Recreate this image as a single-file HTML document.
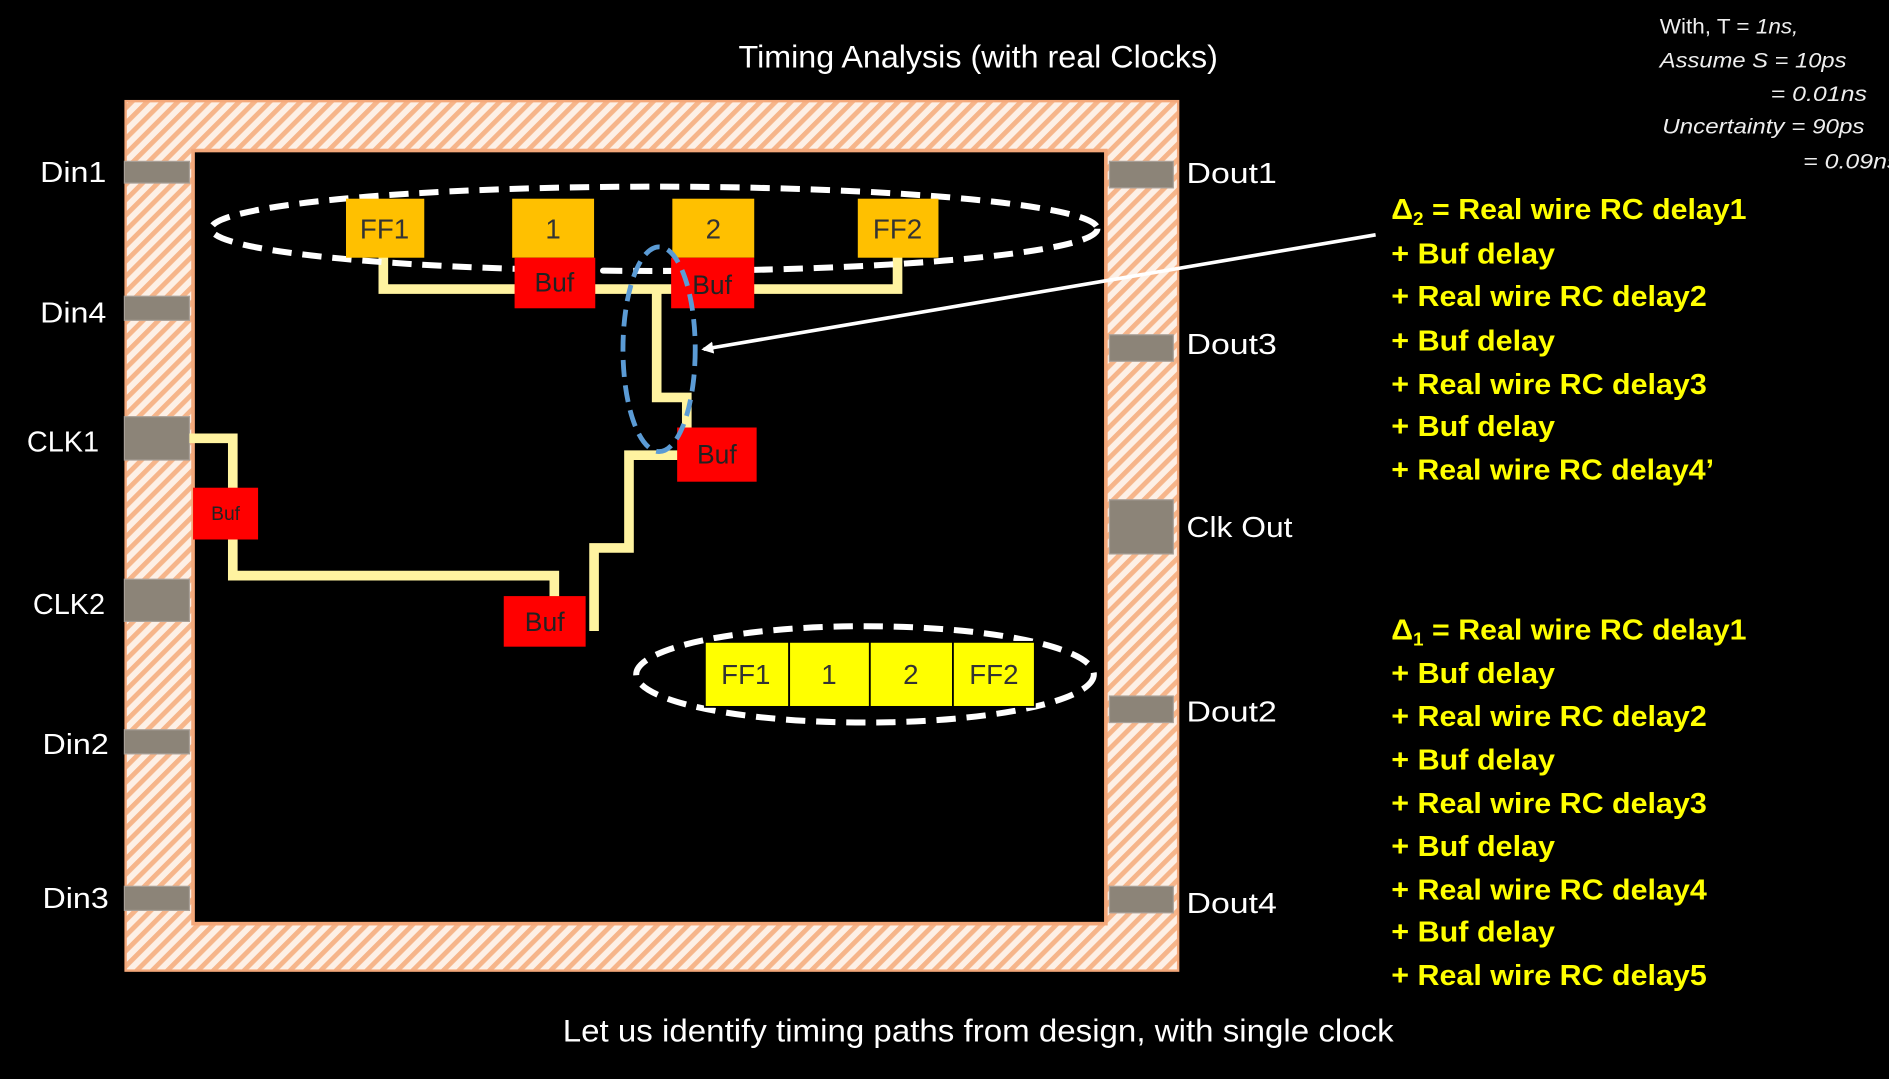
<!DOCTYPE html>
<html><head><meta charset="utf-8"><style>
html,body{margin:0;padding:0;background:#000;overflow:hidden}
svg{display:block}
text{font-family:"Liberation Sans",sans-serif}
</style></head><body>
<svg width="1889" height="1079" viewBox="0 0 1568 896" xmlns="http://www.w3.org/2000/svg">
<defs>
<pattern id="h" width="9" height="9" patternUnits="userSpaceOnUse" patternTransform="rotate(45)">
<rect width="9" height="9" fill="#fdf0e6"/><rect width="4" height="9" fill="#f6b58a"/>
</pattern>
<marker id="ar" markerWidth="10" markerHeight="10" refX="8" refY="5" orient="auto" markerUnits="userSpaceOnUse"><path d="M0,0 L10,5 L0,10 z" fill="#fff"/></marker>
</defs>
<rect width="1568" height="896" fill="#000"/>
<text x="812" y="56" fill="#fff" font-size="26" text-anchor="middle" textLength="398" lengthAdjust="spacingAndGlyphs">Timing Analysis (with real Clocks)</text>
<text x="812" y="865" fill="#fff" font-size="26" text-anchor="middle" textLength="690" lengthAdjust="spacingAndGlyphs">Let us identify timing paths from design, with single clock</text>
<g fill="#eee" font-size="18" font-style="italic">
<text x="1378" y="28" font-style="normal" textLength="115" lengthAdjust="spacingAndGlyphs">With, T = <tspan font-style="italic">1ns,</tspan></text>
<text x="1378" y="56" textLength="155" lengthAdjust="spacingAndGlyphs">Assume S = 10ps</text>
<text x="1470" y="84" textLength="80" lengthAdjust="spacingAndGlyphs">= 0.01ns</text>
<text x="1380" y="111" textLength="168" lengthAdjust="spacingAndGlyphs">Uncertainty = 90ps</text>
<text x="1497" y="140" textLength="80" lengthAdjust="spacingAndGlyphs">= 0.09ns</text>
</g>
<rect x="104" y="84" width="874" height="722" fill="url(#h)" stroke="#f4a87a" stroke-width="2"/>
<rect x="160" y="125" width="758" height="642" fill="#000" stroke="#f4a87a" stroke-width="3"/>
<g fill="#8c8478" stroke="#a8a098" stroke-width="1">
<rect x="103" y="134" width="54" height="18"/><rect x="103" y="246" width="54" height="20"/>
<rect x="103" y="346" width="54" height="36"/><rect x="103" y="481" width="54" height="35"/>
<rect x="103" y="606" width="54" height="20"/><rect x="103" y="736" width="54" height="20"/>
<rect x="921" y="134" width="53" height="22"/><rect x="921" y="278" width="53" height="22"/>
<rect x="921" y="415" width="53" height="45"/><rect x="921" y="578" width="53" height="22"/>
<rect x="921" y="736" width="53" height="22"/>
</g>
<g fill="#fff" font-size="24">
<text x="33" y="151" textLength="55" lengthAdjust="spacingAndGlyphs">Din1</text>
<text x="33" y="268" textLength="55" lengthAdjust="spacingAndGlyphs">Din4</text>
<text x="22" y="375" textLength="60" lengthAdjust="spacingAndGlyphs">CLK1</text>
<text x="27" y="510" textLength="60" lengthAdjust="spacingAndGlyphs">CLK2</text>
<text x="35" y="626" textLength="55" lengthAdjust="spacingAndGlyphs">Din2</text>
<text x="35" y="754" textLength="55" lengthAdjust="spacingAndGlyphs">Din3</text>
<text x="985" y="152" textLength="75" lengthAdjust="spacingAndGlyphs">Dout1</text>
<text x="985" y="294" textLength="75" lengthAdjust="spacingAndGlyphs">Dout3</text>
<text x="985" y="446" textLength="88" lengthAdjust="spacingAndGlyphs">Clk Out</text>
<text x="985" y="599" textLength="75" lengthAdjust="spacingAndGlyphs">Dout2</text>
<text x="985" y="758" textLength="75" lengthAdjust="spacingAndGlyphs">Dout4</text>
</g>
<g fill="none" stroke="#fff3a0" stroke-width="8" stroke-linejoin="miter">
<polyline points="318,210 318,240 745,240 745,210"/>
<polyline points="545,240 545,330 570,330 570,358"/>
<polyline points="565,378 522,378 522,455 493,455 493,524"/>
<polyline points="157,364 193,364 193,410"/>
<polyline points="193,445 193,478 460,478 460,500"/>
</g>
<ellipse cx="543" cy="190" rx="368" ry="35" fill="none" stroke="#fff" stroke-width="5" stroke-dasharray="16,9"/>
<g fill="#ffc000">
<rect x="287" y="165" width="65" height="49"/><rect x="425" y="165" width="68" height="49"/>
<rect x="558" y="165" width="68" height="49"/><rect x="712" y="165" width="67" height="49"/>
</g>
<g fill="#333" font-size="23" text-anchor="middle">
<text x="319" y="198">FF1</text><text x="459" y="198">1</text><text x="592" y="198">2</text><text x="745" y="198">FF2</text>
</g>
<g fill="#ff0000">
<rect x="427" y="214" width="67" height="42"/><rect x="557" y="214" width="69" height="42"/>
<rect x="562" y="355" width="66" height="45"/><rect x="418" y="495" width="68" height="42"/>
<rect x="160" y="405" width="54" height="43"/>
</g>
<g fill="#222" font-size="22" text-anchor="middle">
<text x="460" y="242">Buf</text><text x="591" y="244">Buf</text><text x="595" y="385">Buf</text><text x="452" y="524">Buf</text>
<text x="187" y="432" font-size="16">Buf</text>
</g>
<ellipse cx="547" cy="290" rx="30" ry="85" fill="none" stroke="#5b9bd5" stroke-width="4" stroke-dasharray="14,7"/>
<line x1="1142" y1="195" x2="584" y2="290" stroke="#fff" stroke-width="3" marker-end="url(#ar)"/>
<ellipse cx="718" cy="560" rx="190" ry="40" fill="none" stroke="#fff" stroke-width="5" stroke-dasharray="16,9"/>
<g fill="#ffff00" stroke="#000" stroke-width="1.5">
<rect x="585" y="533" width="70" height="54"/><rect x="655" y="533" width="67" height="54"/>
<rect x="722" y="533" width="69" height="54"/><rect x="791" y="533" width="68" height="54"/>
</g>
<g fill="#333" font-size="23" text-anchor="middle">
<text x="619" y="568">FF1</text><text x="688" y="568">1</text><text x="756" y="568">2</text><text x="825" y="568">FF2</text>
</g>
<g fill="#ffff00" font-size="24" font-weight="bold">
<text x="1155" y="182" textLength="295" lengthAdjust="spacingAndGlyphs">Δ<tspan font-size="15" dy="5">2</tspan><tspan dy="-5"> = Real wire RC delay1</tspan></text>
<text x="1155" y="219" textLength="136" lengthAdjust="spacingAndGlyphs">+ Buf delay</text>
<text x="1155" y="254" textLength="262" lengthAdjust="spacingAndGlyphs">+ Real wire RC delay2</text>
<text x="1155" y="291" textLength="136" lengthAdjust="spacingAndGlyphs">+ Buf delay</text>
<text x="1155" y="327" textLength="262" lengthAdjust="spacingAndGlyphs">+ Real wire RC delay3</text>
<text x="1155" y="362" textLength="136" lengthAdjust="spacingAndGlyphs">+ Buf delay</text>
<text x="1155" y="398" textLength="268" lengthAdjust="spacingAndGlyphs">+ Real wire RC delay4’</text>
<text x="1155" y="531" textLength="295" lengthAdjust="spacingAndGlyphs">Δ<tspan font-size="15" dy="5">1</tspan><tspan dy="-5"> = Real wire RC delay1</tspan></text>
<text x="1155" y="567" textLength="136" lengthAdjust="spacingAndGlyphs">+ Buf delay</text>
<text x="1155" y="603" textLength="262" lengthAdjust="spacingAndGlyphs">+ Real wire RC delay2</text>
<text x="1155" y="639" textLength="136" lengthAdjust="spacingAndGlyphs">+ Buf delay</text>
<text x="1155" y="675" textLength="262" lengthAdjust="spacingAndGlyphs">+ Real wire RC delay3</text>
<text x="1155" y="711" textLength="136" lengthAdjust="spacingAndGlyphs">+ Buf delay</text>
<text x="1155" y="747" textLength="262" lengthAdjust="spacingAndGlyphs">+ Real wire RC delay4</text>
<text x="1155" y="782" textLength="136" lengthAdjust="spacingAndGlyphs">+ Buf delay</text>
<text x="1155" y="818" textLength="262" lengthAdjust="spacingAndGlyphs">+ Real wire RC delay5</text>
</g>
</svg>
</body></html>
